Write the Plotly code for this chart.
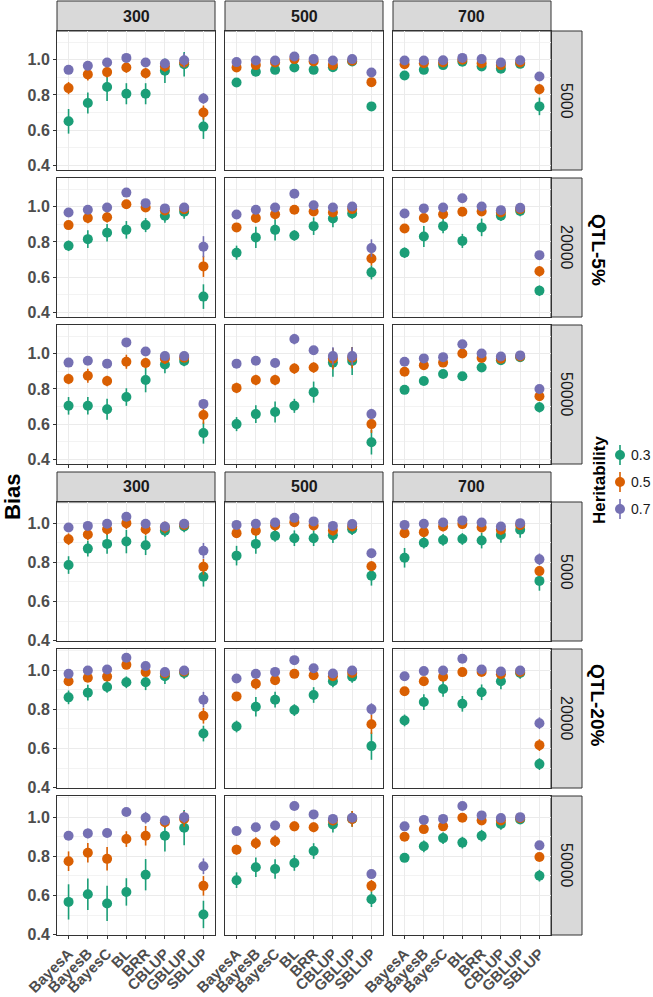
import plotly.graph_objects as go

# ---------------- data ----------------
methods = ["BayesA", "BayesB", "BayesC", "BL", "BRR", "CBLUP", "GBLUP", "SBLUP"]
ref_sizes = ["300", "500", "700"]
marker_counts = ["5000", "20000", "50000"]
qtl_groups = ["QTL-5%", "QTL-20%"]
heritabilities = ["0.3", "0.5", "0.7"]
colors = ["#1B9E77", "#D95F02", "#7570B3"]

# mean bias, one sub-list per reference size (300, 500, 700)
QTL5_N5000_H03 = [[0.650, 0.754, 0.845, 0.807, 0.807, 0.938, 0.975, 0.620],
                  [0.871, 0.932, 0.943, 0.956, 0.943, 0.958, 0.990, 0.735],
                  [0.911, 0.943, 0.970, 0.989, 0.962, 0.949, 0.977, 0.735]]
QTL5_N5000_H05 = [[0.839, 0.917, 0.930, 0.956, 0.924, 0.962, 0.985, 0.700],
                  [0.956, 0.970, 0.985, 1.004, 0.990, 0.970, 0.995, 0.873],
                  [0.975, 0.981, 0.985, 1.000, 0.981, 0.970, 0.985, 0.833]]
QTL5_N5000_H07 = [[0.943, 0.966, 0.985, 1.011, 0.985, 0.979, 0.998, 0.780],
                  [0.987, 0.996, 0.996, 1.019, 1.004, 0.996, 1.004, 0.928],
                  [0.996, 0.996, 0.998, 1.011, 1.004, 0.985, 0.998, 0.905]]

QTL5_N20000_H03 = [[0.778, 0.816, 0.852, 0.869, 0.896, 0.949, 0.972, 0.489],
                   [0.739, 0.826, 0.869, 0.837, 0.890, 0.934, 0.962, 0.627],
                   [0.739, 0.831, 0.890, 0.806, 0.883, 0.949, 0.977, 0.523]]
QTL5_N20000_H05 = [[0.896, 0.936, 0.941, 1.015, 0.996, 0.979, 0.987, 0.661],
                   [0.883, 0.936, 0.958, 0.983, 0.973, 0.968, 0.987, 0.706],
                   [0.877, 0.936, 0.958, 0.972, 0.973, 0.968, 0.987, 0.633]]
QTL5_N20000_H07 = [[0.968, 0.983, 0.996, 1.081, 1.021, 0.991, 0.996, 0.773],
                   [0.956, 0.983, 0.996, 1.074, 1.009, 0.996, 1.002, 0.765],
                   [0.962, 0.991, 0.996, 1.049, 1.002, 0.981, 0.994, 0.725]]

QTL5_N50000_H03 = [[0.704, 0.704, 0.685, 0.754, 0.851, 0.939, 0.959, 0.549],
                   [0.600, 0.657, 0.669, 0.704, 0.782, 0.950, 0.959, 0.497],
                   [0.795, 0.845, 0.885, 0.872, 0.922, 0.963, 0.981, 0.696]]
QTL5_N50000_H05 = [[0.857, 0.875, 0.845, 0.955, 0.948, 0.972, 0.978, 0.652],
                   [0.806, 0.851, 0.851, 0.916, 0.922, 0.972, 0.978, 0.600],
                   [0.898, 0.935, 0.950, 1.002, 0.976, 0.972, 0.985, 0.759]]
QTL5_N50000_H07 = [[0.950, 0.961, 0.944, 1.065, 1.013, 0.987, 0.987, 0.715],
                   [0.944, 0.961, 0.948, 1.084, 1.020, 0.987, 0.987, 0.657],
                   [0.955, 0.974, 0.981, 1.054, 1.002, 0.985, 0.991, 0.800]]

QTL20_N5000_H03 = [[0.786, 0.870, 0.894, 0.906, 0.887, 0.961, 0.983, 0.726],
                   [0.834, 0.894, 0.935, 0.923, 0.923, 0.938, 0.969, 0.731],
                   [0.823, 0.900, 0.914, 0.919, 0.911, 0.940, 0.966, 0.705]]
QTL20_N5000_H05 = [[0.918, 0.942, 0.969, 1.000, 0.969, 0.978, 0.991, 0.777],
                   [0.949, 0.961, 0.988, 1.005, 0.988, 0.962, 0.983, 0.780],
                   [0.949, 0.954, 0.983, 0.995, 0.978, 0.966, 0.990, 0.755]]
QTL20_N5000_H07 = [[0.978, 0.986, 0.997, 1.033, 0.997, 0.983, 0.997, 0.859],
                   [0.991, 0.997, 1.003, 1.027, 1.009, 0.986, 0.995, 0.846],
                   [0.991, 0.997, 1.003, 1.014, 1.003, 0.983, 1.000, 0.815]]

QTL20_N20000_H03 = [[0.861, 0.885, 0.914, 0.938, 0.938, 0.969, 0.986, 0.676],
                    [0.712, 0.813, 0.849, 0.796, 0.873, 0.943, 0.966, 0.612],
                    [0.743, 0.837, 0.904, 0.828, 0.887, 0.943, 0.986, 0.520]]
QTL20_N20000_H05 = [[0.943, 0.961, 0.967, 1.027, 0.990, 0.983, 0.993, 0.767],
                    [0.866, 0.931, 0.949, 0.981, 0.974, 0.969, 0.986, 0.724],
                    [0.892, 0.943, 0.966, 0.990, 0.991, 0.979, 0.991, 0.617]]
QTL20_N20000_H07 = [[0.981, 0.998, 1.003, 1.063, 1.021, 0.990, 0.998, 0.849],
                    [0.957, 0.981, 0.991, 1.051, 1.010, 0.983, 0.998, 0.801],
                    [0.969, 0.995, 0.998, 1.058, 1.003, 0.993, 0.998, 0.729]]

QTL20_N50000_H03 = [[0.567, 0.606, 0.559, 0.618, 0.706, 0.905, 0.946, 0.503],
                    [0.678, 0.744, 0.735, 0.766, 0.827, 0.962, 0.991, 0.581],
                    [0.792, 0.851, 0.893, 0.870, 0.905, 0.965, 0.988, 0.701]]
QTL20_N50000_H05 = [[0.775, 0.818, 0.787, 0.888, 0.905, 0.974, 0.991, 0.649],
                    [0.834, 0.867, 0.877, 0.953, 0.948, 0.983, 0.991, 0.649],
                    [0.900, 0.939, 0.953, 0.997, 0.983, 0.983, 0.995, 0.796]]
QTL20_N50000_H07 = [[0.905, 0.917, 0.919, 1.026, 0.997, 0.983, 1.000, 0.749],
                    [0.929, 0.948, 0.957, 1.057, 1.014, 0.991, 0.997, 0.709],
                    [0.953, 0.986, 0.991, 1.057, 1.009, 0.995, 1.000, 0.856]]

# half-widths of the error bars (same layout)
QTL5_N5000_H03_ERR = [[0.07, 0.06, 0.08, 0.06, 0.06, 0.07, 0.07, 0.07],
                      [0.02, 0.02, 0.02, 0.02, 0.02, 0.02, 0.02, 0.025],
                      [0.025, 0.02, 0.02, 0.02, 0.02, 0.02, 0.02, 0.05]]
QTL5_N5000_H05_ERR = [[0.035, 0.035, 0.03, 0.03, 0.03, 0.03, 0.03, 0.04],
                      [0.015, 0.015, 0.015, 0.015, 0.015, 0.015, 0.015, 0.02],
                      [0.02, 0.02, 0.02, 0.02, 0.02, 0.02, 0.02, 0.03]]
QTL5_N5000_H07_ERR = [[0.015, 0.02, 0.015, 0.02, 0.015, 0.02, 0.04, 0.03],
                      [0.015, 0.015, 0.015, 0.015, 0.015, 0.015, 0.015, 0.015],
                      [0.015, 0.015, 0.015, 0.015, 0.015, 0.015, 0.015, 0.015]]

QTL5_N20000_H03_ERR = [[0.03, 0.05, 0.05, 0.05, 0.04, 0.04, 0.04, 0.07],
                       [0.04, 0.06, 0.06, 0.03, 0.05, 0.05, 0.03, 0.04],
                       [0.03, 0.06, 0.04, 0.04, 0.05, 0.03, 0.03, 0.03]]
QTL5_N20000_H05_ERR = [[0.02, 0.03, 0.03, 0.02, 0.02, 0.02, 0.02, 0.06],
                       [0.02, 0.02, 0.03, 0.02, 0.02, 0.02, 0.02, 0.04],
                       [0.02, 0.02, 0.02, 0.02, 0.02, 0.02, 0.02, 0.03]]
QTL5_N20000_H07_ERR = [[0.015, 0.015, 0.015, 0.02, 0.02, 0.015, 0.015, 0.06],
                       [0.015, 0.015, 0.015, 0.015, 0.015, 0.015, 0.015, 0.05],
                       [0.015, 0.015, 0.015, 0.015, 0.015, 0.015, 0.015, 0.02]]

QTL5_N50000_H03_ERR = [[0.05, 0.05, 0.06, 0.05, 0.07, 0.05, 0.03, 0.06],
                       [0.04, 0.05, 0.06, 0.04, 0.06, 0.08, 0.08, 0.07],
                       [0.02, 0.02, 0.02, 0.02, 0.02, 0.02, 0.02, 0.03]]
QTL5_N50000_H05_ERR = [[0.03, 0.04, 0.03, 0.04, 0.03, 0.03, 0.02, 0.05],
                       [0.03, 0.03, 0.03, 0.03, 0.03, 0.06, 0.06, 0.05],
                       [0.02, 0.02, 0.02, 0.02, 0.02, 0.02, 0.02, 0.02]]
QTL5_N50000_H07_ERR = [[0.015, 0.015, 0.015, 0.015, 0.015, 0.015, 0.015, 0.02],
                       [0.015, 0.015, 0.015, 0.03, 0.015, 0.05, 0.05, 0.03],
                       [0.015, 0.015, 0.015, 0.015, 0.015, 0.015, 0.015, 0.015]]

QTL20_N5000_H03_ERR = [[0.045, 0.04, 0.05, 0.06, 0.05, 0.03, 0.03, 0.05],
                       [0.05, 0.05, 0.03, 0.04, 0.04, 0.04, 0.03, 0.05],
                       [0.05, 0.03, 0.03, 0.03, 0.04, 0.04, 0.04, 0.05]]
QTL20_N5000_H05_ERR = [[0.03, 0.03, 0.03, 0.03, 0.03, 0.03, 0.02, 0.04],
                       [0.025, 0.025, 0.025, 0.025, 0.025, 0.025, 0.025, 0.025],
                       [0.025, 0.025, 0.025, 0.025, 0.025, 0.025, 0.025, 0.025]]
QTL20_N5000_H07_ERR = [[0.015, 0.015, 0.015, 0.02, 0.015, 0.015, 0.015, 0.04],
                       [0.015, 0.015, 0.015, 0.015, 0.015, 0.015, 0.015, 0.015],
                       [0.015, 0.015, 0.015, 0.015, 0.015, 0.015, 0.015, 0.03]]

QTL20_N20000_H03_ERR = [[0.035, 0.04, 0.03, 0.03, 0.04, 0.04, 0.03, 0.04],
                        [0.03, 0.05, 0.04, 0.03, 0.04, 0.03, 0.03, 0.07],
                        [0.03, 0.04, 0.04, 0.04, 0.04, 0.04, 0.03, 0.03]]
QTL20_N20000_H05_ERR = [[0.02, 0.02, 0.02, 0.02, 0.02, 0.02, 0.02, 0.04],
                        [0.02, 0.03, 0.02, 0.02, 0.02, 0.02, 0.02, 0.05],
                        [0.02, 0.02, 0.02, 0.02, 0.02, 0.02, 0.02, 0.03]]
QTL20_N20000_H07_ERR = [[0.015, 0.015, 0.015, 0.015, 0.015, 0.015, 0.015, 0.04],
                        [0.015, 0.015, 0.015, 0.015, 0.015, 0.015, 0.015, 0.03],
                        [0.015, 0.015, 0.015, 0.015, 0.015, 0.015, 0.015, 0.03]]

QTL20_N50000_H03_ERR = [[0.09, 0.08, 0.09, 0.07, 0.08, 0.08, 0.09, 0.07],
                        [0.04, 0.05, 0.05, 0.04, 0.04, 0.04, 0.04, 0.04],
                        [0.02, 0.03, 0.03, 0.03, 0.03, 0.03, 0.02, 0.03]]
QTL20_N50000_H05_ERR = [[0.05, 0.05, 0.06, 0.04, 0.05, 0.03, 0.04, 0.05],
                        [0.025, 0.03, 0.03, 0.025, 0.025, 0.025, 0.04, 0.03],
                        [0.02, 0.02, 0.02, 0.02, 0.02, 0.02, 0.02, 0.02]]
QTL20_N50000_H07_ERR = [[0.015, 0.025, 0.015, 0.02, 0.03, 0.02, 0.03, 0.04],
                        [0.015, 0.015, 0.015, 0.015, 0.015, 0.015, 0.015, 0.02],
                        [0.015, 0.015, 0.015, 0.015, 0.015, 0.015, 0.015, 0.015]]

group_yranges = [[0.373, 1.164], [0.398, 1.108]]
y_tickvals = [0.4, 0.6, 0.8, 1.0]
y_ticktext = ["0.4", "0.6", "0.8", "1.0"]

means = [
    [[QTL5_N5000_H03, QTL5_N5000_H05, QTL5_N5000_H07],
     [QTL5_N20000_H03, QTL5_N20000_H05, QTL5_N20000_H07],
     [QTL5_N50000_H03, QTL5_N50000_H05, QTL5_N50000_H07]],
    [[QTL20_N5000_H03, QTL20_N5000_H05, QTL20_N5000_H07],
     [QTL20_N20000_H03, QTL20_N20000_H05, QTL20_N20000_H07],
     [QTL20_N50000_H03, QTL20_N50000_H05, QTL20_N50000_H07]],
]
errs = [
    [[QTL5_N5000_H03_ERR, QTL5_N5000_H05_ERR, QTL5_N5000_H07_ERR],
     [QTL5_N20000_H03_ERR, QTL5_N20000_H05_ERR, QTL5_N20000_H07_ERR],
     [QTL5_N50000_H03_ERR, QTL5_N50000_H05_ERR, QTL5_N50000_H07_ERR]],
    [[QTL20_N5000_H03_ERR, QTL20_N5000_H05_ERR, QTL20_N5000_H07_ERR],
     [QTL20_N20000_H03_ERR, QTL20_N20000_H05_ERR, QTL20_N20000_H07_ERR],
     [QTL20_N50000_H03_ERR, QTL20_N50000_H05_ERR, QTL20_N50000_H07_ERR]],
]

# ---------------- geometry (pixels) ----------------
W, H = 653, 997
FONT = "Liberation Sans, Arial, sans-serif"
col_x0 = [57, 225, 393]
panel_w = 158
group_top = [31, 502]
panel_h = 139
row_gap = 8
strip_h = 30
rstrip_w = 31
BORDER = "#333333"
STRIP_FILL = "#D9D9D9"
GRID = "#EBEBEB"


def px(x):
    return x / W


def py(y):
    return 1 - y / H


def label(x, y, text, size, angle=0, weight="normal", color="#1A1A1A", xanchor="center"):
    return dict(xref="paper", yref="paper", x=px(x), y=py(y), text=text,
                showarrow=False, textangle=angle, xanchor=xanchor, yanchor="middle",
                font=dict(family=FONT, size=size, color=color, weight=weight))


fig = go.Figure()
layout_axes = {}
shapes = []
annotations = []
xpos = list(range(len(methods)))

for g in range(2):
    for r in range(3):
        top = group_top[g] + r * (panel_h + row_gap)
        for c in range(3):
            k = g * 9 + r * 3 + c + 1
            x0 = col_x0[c]
            xa = "x" if k == 1 else f"x{k}"
            ya = "y" if k == 1 else f"y{k}"
            for h in range(3):
                fig.add_trace(go.Scatter(
                    x=xpos, y=means[g][r][h][c], xaxis=xa, yaxis=ya,
                    mode="markers", showlegend=False,
                    marker=dict(color=colors[h], size=10, line=dict(width=0)),
                    error_y=dict(type="data", array=errs[g][r][h][c],
                                 color=colors[h], thickness=1.6, width=0),
                    name=heritabilities[h],
                ))
            bottom_row = (r == 2)
            layout_axes["xaxis" if k == 1 else f"xaxis{k}"] = dict(
                domain=[px(x0), px(x0 + panel_w)], anchor=ya, automargin=False,
                range=[-0.6, 7.6], tickmode="array", tickvals=xpos,
                ticktext=methods, tickangle=-45,
                showticklabels=(g == 1 and bottom_row),
                ticks="outside" if bottom_row else "", ticklen=3,
                tickcolor=BORDER, tickwidth=1,
                tickfont=dict(family=FONT, size=15, color="#4D4D4D", weight="bold"),
                showgrid=True, gridcolor=GRID, gridwidth=1, zeroline=False,
                showline=True, linecolor=BORDER, linewidth=1, mirror=True,
            )
            layout_axes["yaxis" if k == 1 else f"yaxis{k}"] = dict(
                domain=[py(top + panel_h), py(top)], anchor=xa, automargin=False,
                range=group_yranges[g], tickmode="array",
                tickvals=y_tickvals, ticktext=y_ticktext,
                showticklabels=(c == 0), ticks="outside" if c == 0 else "",
                ticklen=3, tickcolor=BORDER, tickwidth=1,
                tickfont=dict(family=FONT, size=16, color="#4D4D4D", weight="bold"),
                showgrid=True, gridcolor=GRID, gridwidth=1, zeroline=False,
                minor=dict(tickmode="array", tickvals=[0.5, 0.7, 0.9, 1.1],
                           showgrid=True, gridcolor="#F3F3F3", gridwidth=1),
                showline=True, linecolor=BORDER, linewidth=1, mirror=True,
            )
        # right strip for this row
        shapes.append(dict(type="rect", xref="paper", yref="paper",
                           x0=px(551), x1=px(551 + rstrip_w),
                           y0=py(top + panel_h), y1=py(top),
                           fillcolor=STRIP_FILL, line=dict(color=BORDER, width=1),
                           layer="below"))
        annotations.append(label(551 + rstrip_w / 2, top + panel_h / 2,
                                 marker_counts[r], 16, angle=90))
    # top strips
    for c in range(3):
        x0 = col_x0[c]
        shapes.append(dict(type="rect", xref="paper", yref="paper",
                           x0=px(x0), x1=px(x0 + panel_w),
                           y0=py(group_top[g]), y1=py(group_top[g] - strip_h),
                           fillcolor=STRIP_FILL, line=dict(color=BORDER, width=1),
                           layer="below"))
        annotations.append(label(x0 + panel_w / 2, group_top[g] - strip_h / 2,
                                 ref_sizes[c], 16, weight="bold"))

# outer group labels
for g, yc in zip(range(2), [250, 705]):
    annotations.append(label(598, yc, qtl_groups[g], 19, angle=90,
                             weight="bold", color="black"))

# y axis title
annotations.append(label(12, 497, "Bias", 22, angle=-90, weight="bold", color="black"))

# legend (drawn manually)
annotations.append(label(599, 480, "Heritability", 17, angle=-90,
                         weight="bold", color="black"))
legend_y = [455, 482, 509]
for h in range(3):
    ly = legend_y[h]
    shapes.append(dict(type="line", xref="paper", yref="paper",
                       x0=px(620), x1=px(620), y0=py(ly - 10), y1=py(ly + 10),
                       line=dict(color=colors[h], width=1.6)))
    shapes.append(dict(type="circle", xref="paper", yref="paper",
                       x0=px(615), x1=px(625), y0=py(ly + 5), y1=py(ly - 5),
                       fillcolor=colors[h], line=dict(color=colors[h], width=0)))
    annotations.append(label(629, ly, heritabilities[h], 14, xanchor="left"))

fig.update_layout(
    width=W, height=H, margin=dict(l=0, r=0, t=0, b=0, autoexpand=False),
    paper_bgcolor="white", plot_bgcolor="white",
    showlegend=False, shapes=shapes, annotations=annotations,
    **layout_axes,
)

fig.write_html("out.html", config={"displayModeBar": False},
               post_script="document.body.style.margin='0';document.body.style.overflow='hidden';")
